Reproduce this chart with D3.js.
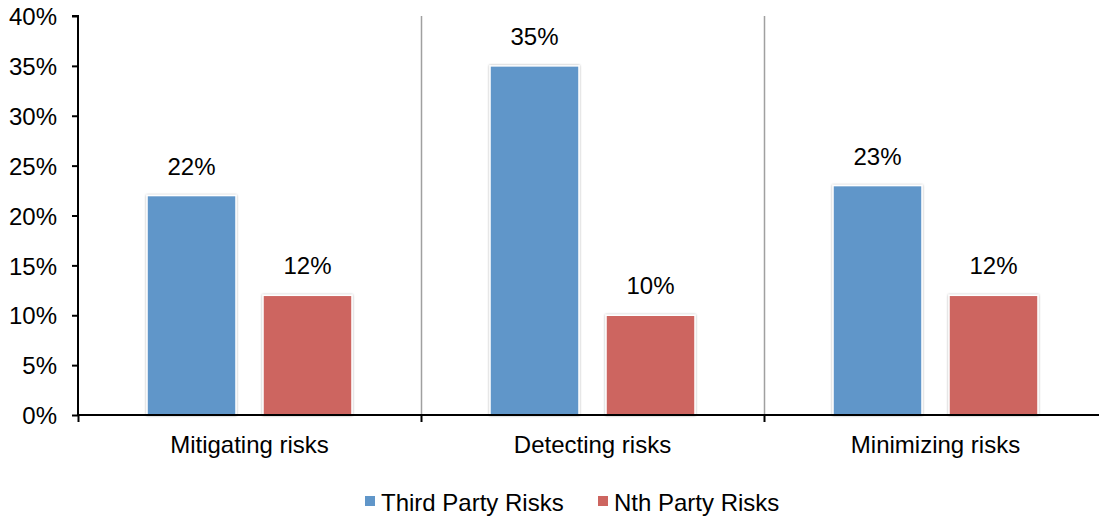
<!DOCTYPE html>
<html>
<head>
<meta charset="utf-8">
<script src="https://cdn.jsdelivr.net/npm/d3@7"></script>
<style>
  html, body { margin: 0; padding: 0; background: #fff; }
  svg { display: block; font-family: "Liberation Sans", Arial, sans-serif; }
</style>
</head>
<body>
<svg id="chart" width="1099" height="519"></svg>
<script>
const categories = ["Mitigating risks", "Detecting risks", "Minimizing risks"];
const seriesNames = ["Third Party Risks", "Nth Party Risks"];
const thirdParty = [22, 35, 23];
const nthParty = [12, 10, 12];
const yTicks = [0, 5, 10, 15, 20, 25, 30, 35, 40];
const colors = ["#6096c9", "#cd6560"];

const FS = 24;
const svg = d3.select("#chart");
const margin = { left: 78, top: 16, bottom: 104 };
const plotW = 1029;
const H = 519;
const y0 = H - margin.bottom; // 415

const x = d3.scaleBand().domain(categories).range([margin.left, margin.left + plotW]);
const xs = d3.scaleBand().domain(seriesNames).range([0, x.bandwidth()]).paddingInner(0.233).paddingOuter(0.595);
const y = d3.scaleLinear().domain([0, 40]).range([y0, margin.top]);

const defs = svg.append("defs");
const f = defs.append("filter").attr("id", "shadow").attr("x", "-20%").attr("y", "-20%").attr("width", "140%").attr("height", "140%");
f.append("feDropShadow").attr("dx", 0).attr("dy", 0).attr("stdDeviation", 1.2).attr("flood-color", "#000").attr("flood-opacity", 0.35);

// category separators
svg.append("g").selectAll("line").data(categories.slice(1)).join("line")
  .attr("x1", d => Math.round(x(d)) + 0.5).attr("x2", d => Math.round(x(d)) + 0.5)
  .attr("y1", margin.top).attr("y2", y0)
  .attr("stroke", "#a0a0a0").attr("stroke-width", 1.5);

// bars
const rows = categories.map((c, i) => ({ cat: c, vals: [thirdParty[i], nthParty[i]] }));
const groups = svg.append("g").selectAll("g").data(rows).join("g")
  .attr("transform", d => `translate(${x(d.cat)},0)`);

groups.selectAll("rect").data(d => d.vals.map((v, j) => ({ v, s: seriesNames[j], j }))).join("rect")
  .attr("x", d => xs(d.s))
  .attr("width", xs.bandwidth())
  .attr("y", d => y(d.v))
  .attr("height", d => y0 - y(d.v))
  .attr("fill", d => colors[d.j])
  .attr("stroke", "#fff").attr("stroke-width", 1.5)
  .attr("filter", "url(#shadow)");

groups.selectAll("text").data(d => d.vals.map((v, j) => ({ v, s: seriesNames[j] }))).join("text")
  .attr("x", d => xs(d.s) + xs.bandwidth() / 2)
  .attr("y", d => y(d.v) - 21)
  .attr("text-anchor", "middle")
  .attr("font-size", FS)
  .attr("fill", "#000")
  .text(d => d.v + "%");

// y axis
const yAxis = svg.append("g").attr("transform", `translate(${margin.left},0)`)
  .call(d3.axisLeft(y).tickValues(yTicks).tickFormat(d => d + "%").tickSize(6).tickPadding(15));
yAxis.select(".domain").attr("stroke", "#000").attr("stroke-width", 2).attr("d", `M-6,${margin.top}H0V${y0}`);
yAxis.selectAll(".tick line").attr("stroke", "#000").attr("stroke-width", 2);
yAxis.selectAll(".tick text").attr("font-size", FS).attr("fill", "#000").attr("font-family", "Liberation Sans, Arial, sans-serif").attr("dy", "0.36em");

// x axis
const xAxis = svg.append("g").attr("transform", `translate(0,${y0})`);
xAxis.append("line").attr("x1", margin.left - 1).attr("x2", margin.left + plotW).attr("y1", 0).attr("y2", 0)
  .attr("stroke", "#000").attr("stroke-width", 2);
xAxis.selectAll("line.tk").data(categories).join("line").attr("class", "tk")
  .attr("x1", d => Math.round(x(d)) + 0.5).attr("x2", d => Math.round(x(d)) + 0.5)
  .attr("y1", 0).attr("y2", 7).attr("stroke", "#000").attr("stroke-width", 2);
xAxis.selectAll("text").data(categories).join("text")
  .attr("x", d => x(d) + x.bandwidth() / 2)
  .attr("y", 38)
  .attr("text-anchor", "middle")
  .attr("font-size", FS)
  .attr("fill", "#000")
  .text(d => d);

// legend
const legendItems = [{ name: seriesNames[0], x: 365 }, { name: seriesNames[1], x: 598 }];
const lg = svg.append("g").selectAll("g").data(legendItems).join("g")
  .attr("transform", d => `translate(${d.x},511)`);
lg.append("rect").attr("x", 0).attr("y", -15).attr("width", 10).attr("height", 10)
  .attr("fill", (d, i) => colors[i]);
lg.append("text").attr("x", 16).attr("y", 0)
  .attr("font-size", FS).attr("fill", "#000").text(d => d.name);
</script>
</body>
</html>
